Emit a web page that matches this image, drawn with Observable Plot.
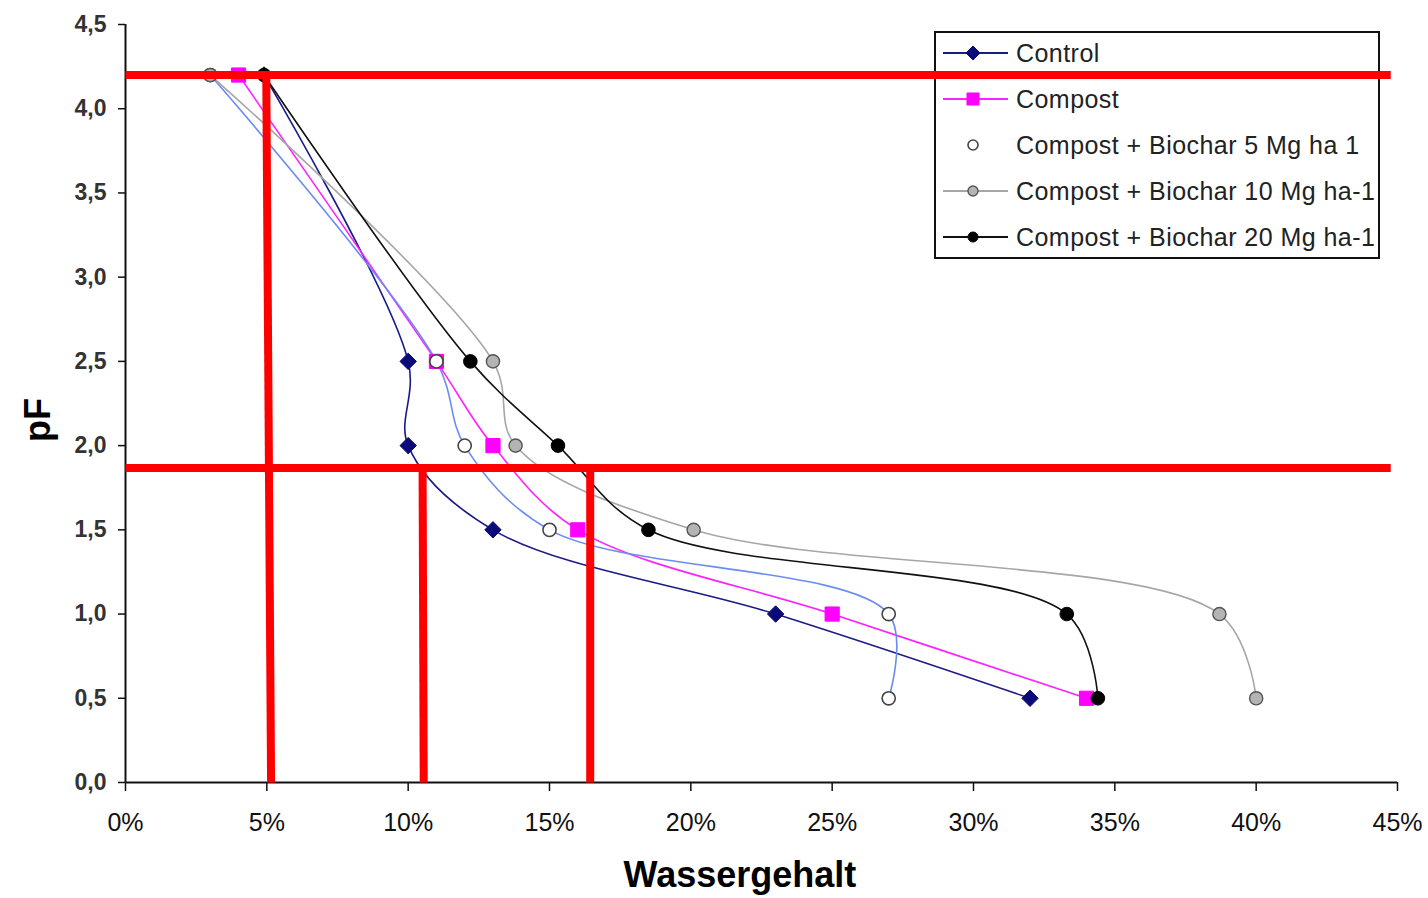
<!DOCTYPE html>
<html>
<head>
<meta charset="utf-8">
<script src="https://cdn.jsdelivr.net/npm/d3@7"></script>
<script src="https://cdn.jsdelivr.net/npm/@observablehq/plot@0.6"></script>
<style>
  body { margin: 0; background: #fff; }
  #wrap { position: relative; width: 1428px; height: 898px; overflow: hidden; font-family: "Liberation Sans", Arial, sans-serif; }
  #legend { position: absolute; left: 934px; top: 31px; width: 442px; height: 224px; border: 2px solid #111; background: #fff; z-index: 0; }
  #chart { position: absolute; left: 0; top: 0; z-index: 1; }
  .row { position: absolute; left: 0; height: 46px; display: flex; align-items: center; }
  .row span { font-size: 25px; color: #222; margin-left: 4px; white-space: nowrap; letter-spacing: 0.45px; }
  .ttl { position: absolute; font-weight: bold; color: #000; z-index: 2; }
</style>
</head>
<body>
<div id="wrap">
  <div id="legend"></div>
  <div id="chart"></div>
  <div class="ttl" id="xt" style="left:0;width:1480px;text-align:center;top:854px;font-size:36px;">Wassergehalt</div>
  <div class="ttl" id="yt" style="left:16px;top:402px;font-size:36px;transform:rotate(-90deg);transform-origin:22px 18px;width:44px;height:36px;line-height:36px;">pF</div>
</div>
<script>
// ---- data ----
const pF = [4.2, 2.5, 2.0, 1.5, 1.0, 0.5];
const seriesNames = ["Control", "Compost", "Compost + Biochar 5 Mg ha 1", "Compost + Biochar 10 Mg ha-1", "Compost + Biochar 20 Mg ha-1"];
const control = [4.9, 10, 10, 13, 23, 32];
const compost = [4.0, 11, 13, 16, 25, 34];
const biochar5 = [3.0, 11, 12, 15, 27, 27];
const biochar10 = [3.0, 13, 13.8, 20.1, 38.7, 40];
const biochar20 = [4.9, 12.2, 15.3, 18.5, 33.3, 34.4];
const xTicks = [0, 0.05, 0.10, 0.15, 0.20, 0.25, 0.30, 0.35, 0.40, 0.45];
const yTicks = [0, 0.5, 1.0, 1.5, 2.0, 2.5, 3.0, 3.5, 4.0, 4.5];
// red annotation lines (water content fraction, pF)
const redLines = [
  {x1: 0, x2: 0.4476, y1: 4.2, y2: 4.2},
  {x1: 0, x2: 0.4476, y1: 1.867, y2: 1.867},
  {x1: 0.0498, x2: 0.0515, y1: 4.2, y2: 0},
  {x1: 0.1051, x2: 0.1055, y1: 1.867, y2: 0},
  {x1: 0.1644, x2: 0.1644, y1: 1.867, y2: 0}
];

const values = [control, compost, biochar5, biochar10, biochar20];
const styles = [
  {line: "#1b1b86", symbol: "diamond2", r: 7.4, fill: "#0a0a78", stroke: "#0a0a78", sw: 1},
  {line: "#ff22ff", symbol: "square", r: 8, fill: "#ff00ff", stroke: "#ff00ff", sw: 1},
  {line: "#6a8cf2", symbol: "circle", r: 6.6, fill: "#ffffff", stroke: "#444", sw: 1.6, legendLine: false},
  {line: "#a6a6a6", symbol: "circle", r: 6.6, fill: "#b4b4b4", stroke: "#555", sw: 1.4},
  {line: "#111111", symbol: "circle", r: 6.8, fill: "#000", stroke: "#000", sw: 1}
];

const data = [];
seriesNames.forEach((name, i) => {
  values[i].forEach((v, j) => data.push({series: name, idx: i, w: v / 100, pF: pF[j]}));
});

const marks = [];
seriesNames.forEach((name, i) => {
  const d = data.filter(e => e.idx === i);
  marks.push(Plot.line(d, {x: "w", y: "pF", stroke: styles[i].line, strokeWidth: 1.6, curve: "catmull-rom"}));
});
seriesNames.forEach((name, i) => {
  const d = data.filter(e => e.idx === i);
  const s = styles[i];
  marks.push(Plot.dot(d, {x: "w", y: "pF", symbol: s.symbol, r: s.r, fill: s.fill, stroke: s.stroke, strokeWidth: s.sw}));
});

const chart = Plot.plot({
  width: 1428,
  height: 898,
  marginLeft: 125,
  marginRight: 31,
  marginTop: 24,
  marginBottom: 116,
  style: {background: "transparent", fontFamily: "Liberation Sans, Arial, sans-serif"},
  x: {domain: [0, 0.45]},
  y: {domain: [0, 4.5]},
  marks: [
    Plot.axisY({ticks: yTicks, tickSize: 7, tickPadding: 12, tickFormat: d => d.toFixed(1).replace(".", ","),
      fontSize: 23, fontWeight: "bold", fill: "#333", stroke: "#111", strokeWidth: 1.5, label: null}),
    Plot.axisX({ticks: xTicks, tickSize: 9, tickPadding: 22, tickFormat: d => Math.round(d * 100) + "%",
      fontSize: 25, fill: "#111", stroke: "#111", strokeWidth: 1.5, label: null}),
    ...marks,
    Plot.ruleX([0], {stroke: "#111", strokeWidth: 2}),
    Plot.ruleY([0], {stroke: "#111", strokeWidth: 2}),
    Plot.link(redLines, {x1: "x1", x2: "x2", y1: "y1", y2: "y2", stroke: "#ff0000", strokeWidth: 8, strokeLinecap: "butt"})
  ]
});
document.getElementById("chart").appendChild(chart);

// ---- legend ----
const legend = document.getElementById("legend");
const sym = {circle: d3.symbolCircle, square: d3.symbolSquare, diamond2: d3.symbolDiamond2};
seriesNames.forEach((name, i) => {
  const s = styles[i];
  const row = document.createElement("div");
  row.className = "row";
  row.style.top = (i * 46 - 3) + "px";
  const svg = d3.create("svg").attr("width", 76).attr("height", 46);
  if (s.legendLine !== false) {
    svg.append("line").attr("x1", 7).attr("x2", 72).attr("y1", 23).attr("y2", 23)
      .attr("stroke", s.line).attr("stroke-width", 1.8);
  }
  const rr = s.symbol === "circle" ? 5 : s.r * 0.85;
  svg.append("path").attr("transform", "translate(37,23)")
    .attr("d", d3.symbol(sym[s.symbol], Math.PI * rr * rr)())
    .attr("fill", s.fill).attr("stroke", s.stroke).attr("stroke-width", s.sw);
  row.appendChild(svg.node());
  const t = document.createElement("span");
  t.textContent = name;
  row.appendChild(t);
  legend.appendChild(row);
});
</script>
</body>
</html>
